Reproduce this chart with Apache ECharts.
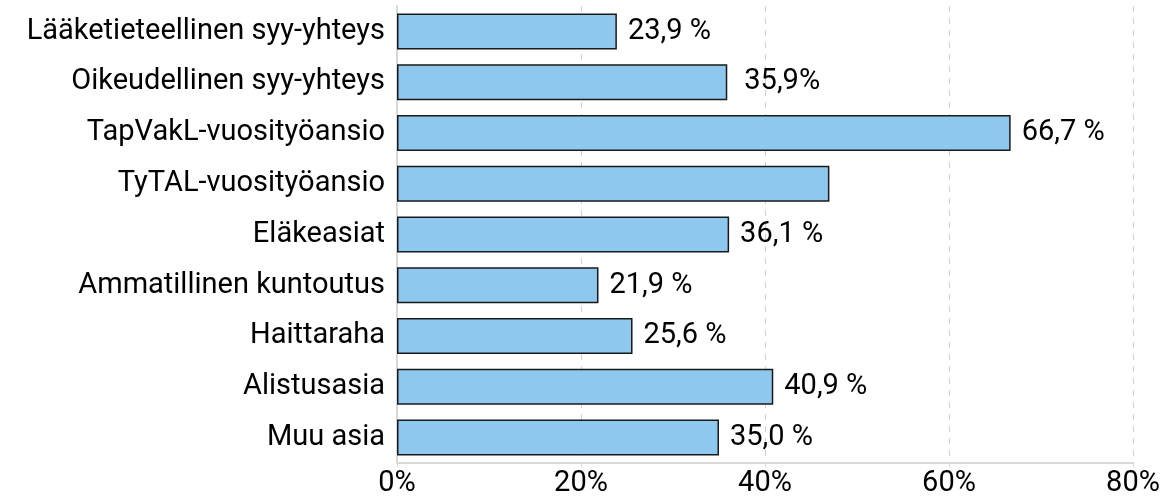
<!DOCTYPE html>
<html>
<head>
<meta charset="utf-8">
<script src="https://cdn.jsdelivr.net/npm/echarts@6/dist/echarts.min.js"></script>
<style>
  html, body { margin: 0; padding: 0; background: #ffffff; }
  #chart { width: 1166px; height: 500px; }
</style>
</head>
<body>
<div id="chart"></div>
<script>
// Categories from top to bottom
const categories = [
  'Lääketieteellinen syy-yhteys',
  'Oikeudellinen syy-yhteys',
  'TapVakL-vuosityöansio',
  'TyTAL-vuosityöansio',
  'Eläkeasiat',
  'Ammatillinen kuntoutus',
  'Haittaraha',
  'Alistusasia',
  'Muu asia'
];
// Share in percent
const values = [23.9, 35.9, 66.7, 47.0, 36.1, 21.9, 25.6, 40.9, 35.0];
// Value labels as written next to each bar ('' = no label)
const valueLabels = ['23,9 %', '35,9%', '66,7 %', '', '36,1 %', '21,9 %', '25,6 %', '40,9 %', '35,0 %'];
// Horizontal axis ticks
const xTicks = [0, 20, 40, 60, 80];

const FONT = 'Roboto';
const SIZE = 29;
const chart = echarts.init(document.getElementById('chart'), null, { renderer: 'canvas' });

const data = values.map((v, i) => ({
  value: v,
  label: {
    show: valueLabels[i] !== '',
    formatter: valueLabels[i],
    distance: i === 1 ? 17 : 11
  }
}));

chart.setOption({
  animation: false,
  backgroundColor: '#ffffff',
  grid: { left: 397, right: 33, top: 6, bottom: 37, containLabel: false },
  xAxis: {
    type: 'value',
    min: xTicks[0],
    max: xTicks[xTicks.length - 1],
    interval: 20,
    axisLine: { show: true, lineStyle: { color: '#d9d9d9', width: 2 } },
    axisTick: { show: true, length: 4, lineStyle: { color: '#d9d9d9', width: 1 } },
    axisLabel: {
      formatter: v => v + '%',
      color: '#000000',
      fontFamily: FONT,
      fontSize: SIZE,
      margin: 6
    },
    splitLine: { show: true, lineStyle: { color: '#d0d0d0', type: [6, 6], width: 1 } }
  },
  yAxis: {
    type: 'category',
    data: categories,
    inverse: true,
    axisLine: { show: true, lineStyle: { color: '#d9d9d9', width: 2 } },
    axisTick: { show: false },
    axisLabel: {
      color: '#000000',
      fontFamily: FONT,
      fontSize: SIZE,
      margin: 12
    }
  },
  series: [{
    type: 'bar',
    data: data,
    barWidth: 36,
    itemStyle: { color: '#8fc8ee', borderColor: '#1a1a1a', borderWidth: 1.5 },
    label: {
      show: true,
      position: 'right',
      color: '#000000',
      fontFamily: FONT,
      fontSize: SIZE
    }
  }]
});
</script>
</body>
</html>
